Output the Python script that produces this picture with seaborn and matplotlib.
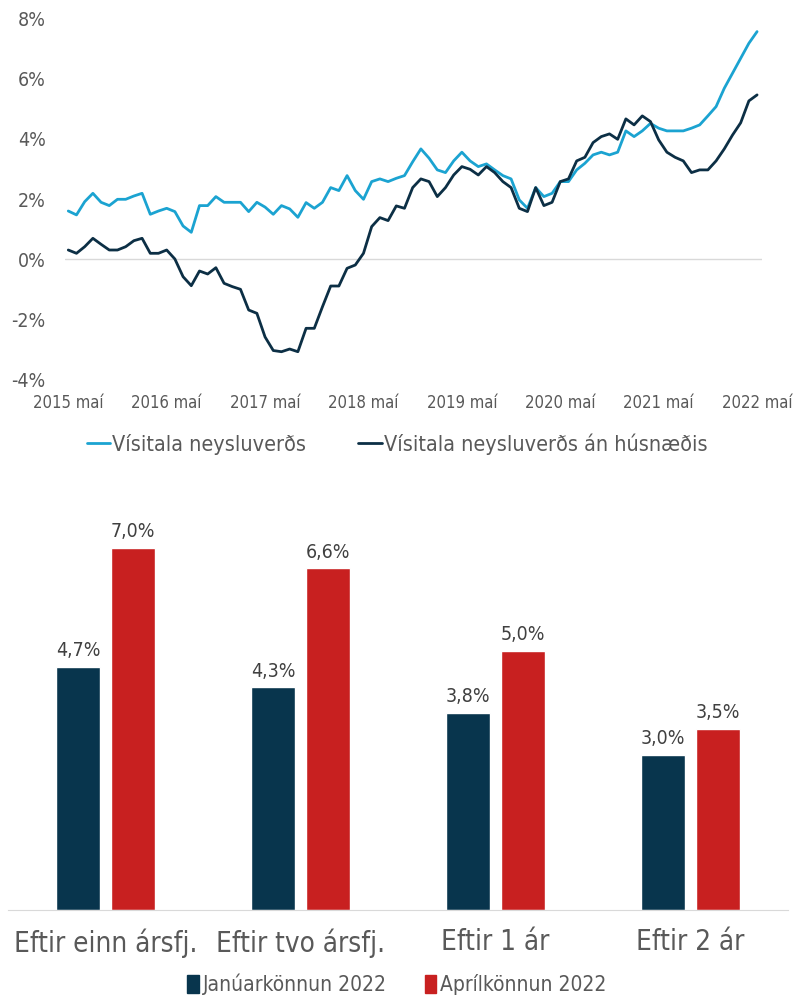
import numpy as np
import pandas as pd
import seaborn as sns
import matplotlib.pyplot as plt
from matplotlib.lines import Line2D
from matplotlib.patches import Patch

# Verðbólga, 12 mánaða breyting (%), maí 2015 - maí 2022
visitala = [1.6, 1.47, 1.91, 2.19, 1.89, 1.78, 1.99, 1.99, 2.1, 2.19, 1.49, 1.6,
            1.69, 1.58, 1.1, 0.89, 1.78, 1.78, 2.08, 1.89, 1.89, 1.89, 1.58, 1.89,
            1.73, 1.49, 1.78, 1.67, 1.39, 1.88, 1.69, 1.89, 2.38, 2.28, 2.78, 2.28,
            1.99, 2.58, 2.67, 2.58, 2.69, 2.78, 3.24, 3.67, 3.36, 2.97, 2.88, 3.27,
            3.56, 3.27, 3.08, 3.17, 2.97, 2.78, 2.67, 1.97, 1.69, 2.38, 2.08, 2.19,
            2.58, 2.58, 2.97, 3.19, 3.47, 3.56, 3.47, 3.56, 4.27, 4.08, 4.27, 4.52,
            4.36, 4.27, 4.27, 4.27, 4.36, 4.47, 4.77, 5.08, 5.69, 6.19, 6.69, 7.19,
            7.58]
an_husnaedis = [0.3, 0.19, 0.41, 0.69, 0.49, 0.3, 0.3, 0.41, 0.61, 0.69, 0.19, 0.19,
                0.3, 0.0, -0.59, -0.89, -0.4, -0.5, -0.29, -0.81, -0.92, -1.01, -1.7, -1.81,
                -2.6, -3.05, -3.09, -3.0, -3.09, -2.31, -2.31, -1.59, -0.9, -0.9, -0.31, -0.2,
                0.19, 1.08, 1.38, 1.28, 1.77, 1.69, 2.38, 2.67, 2.58, 2.08, 2.38, 2.8,
                3.08, 2.99, 2.8, 3.08, 2.88, 2.58, 2.38, 1.69, 1.58, 2.38, 1.78, 1.89,
                2.58, 2.67, 3.27, 3.39, 3.88, 4.08, 4.17, 3.99, 4.67, 4.47, 4.77, 4.58,
                3.97, 3.56, 3.39, 3.27, 2.88, 2.97, 2.97, 3.27, 3.67, 4.13, 4.54, 5.27,
                5.47]
ar_merki = ["2015 maí", "2016 maí", "2017 maí", "2018 maí", "2019 maí",
            "2020 maí", "2021 maí", "2022 maí"]

# Væntingar um verðbólgu
timabil = ["Eftir einn ársfj.", "Eftir tvo ársfj.", "Eftir 1 ár", "Eftir 2 ár"]
januar = [4.7, 4.3, 3.8, 3.0]
april = [7.0, 6.6, 5.0, 3.5]

sns.set_style("white")
plt.rcParams['font.family'] = ['DejaVu Sans']
plt.rcParams['font.stretch'] = 'condensed'

gra = "#595959"
ljosblar = "#1ba3d1"
dokkblar = "#0c2f45"
sula_dokk = "#08354d"
sula_raud = "#c82020"

fig = plt.figure(figsize=(7.94, 9.99), dpi=100)

# ---- efri mynd: línurit ----
ax1 = fig.add_axes([65 / 794, 0.6206, 697 / 794, 0.3604])
manudir = np.arange(len(visitala))
df_lina = pd.DataFrame({"m": manudir, "Vísitala neysluverðs": visitala,
                        "Vísitala neysluverðs án húsnæðis": an_husnaedis})
ax1.axhline(0, color="#d9d9d9", lw=1, zorder=0)
sns.lineplot(data=df_lina, x="m", y="Vísitala neysluverðs", color=ljosblar, lw=2, ax=ax1)
sns.lineplot(data=df_lina, x="m", y="Vísitala neysluverðs án húsnæðis", color=dokkblar, lw=2, ax=ax1)
ax1.set_xlim(-0.4, 84.6)
ax1.set_ylim(-4, 8)
ax1.set_yticks(range(-4, 9, 2))
ax1.set_yticklabels([f"{v}%" for v in range(-4, 9, 2)], fontsize=14, color=gra)
ax1.set_xticks(range(0, 85, 12))
ax1.set_xticklabels(ar_merki, fontsize=12, color=gra)
ax1.tick_params(axis="y", length=0, pad=14)
ax1.tick_params(axis="x", length=0, pad=11)
ax1.set_xlabel("")
ax1.set_ylabel("")
sns.despine(ax=ax1, left=True, bottom=True)
handles = [Line2D([], [], color=ljosblar, lw=2), Line2D([], [], color=dokkblar, lw=2)]
fig.legend(handles, ["Vísitala neysluverðs", "Vísitala neysluverðs án húsnæðis"],
           loc="center", bbox_to_anchor=(0.5, 0.5556), ncol=2, frameon=False,
           fontsize=15.5, labelcolor=gra, handlelength=1.1, handletextpad=0.1,
           columnspacing=2.4)

# ---- neðri mynd: súlurit ----
ax2 = fig.add_axes([8 / 794, 0.0891, 780 / 794, 0.4144])
df_sula = pd.DataFrame({
    "timabil": timabil * 2,
    "gildi": januar + april,
    "konnun": ["Janúarkönnun 2022"] * 4 + ["Aprílkönnun 2022"] * 4,
})
sns.barplot(data=df_sula, x="timabil", y="gildi", hue="konnun",
            palette=[sula_dokk, sula_raud], width=0.56, gap=0.2,
            saturation=1, legend=False, ax=ax2)
for cont in ax2.containers:
    ax2.bar_label(cont, labels=[f"{b.get_height():.1f}%".replace(".", ",") for b in cont],
                  padding=5, fontsize=14, color="#404040")
ax2.set_xlim(-0.5, 3.5)
ax2.set_ylim(0, 8)
ax2.set_yticks([])
ax2.set_xlabel("")
ax2.set_ylabel("")
ax2.tick_params(axis="x", length=0, pad=13, labelsize=20, labelcolor=gra)
sns.despine(ax=ax2, left=True)
ax2.spines["bottom"].set_color("#d9d9d9")
leg_h = [Patch(color=sula_dokk), Patch(color=sula_raud)]
fig.legend(leg_h, ["Janúarkönnun 2022", "Aprílkönnun 2022"], loc="center",
           bbox_to_anchor=(0.5, 0.0145), ncol=2, frameon=False, fontsize=15,
           labelcolor=gra, handlelength=0.55, handleheight=0.9, handletextpad=0.2,
           columnspacing=1.8)

fig.savefig("out.png", dpi=100)
